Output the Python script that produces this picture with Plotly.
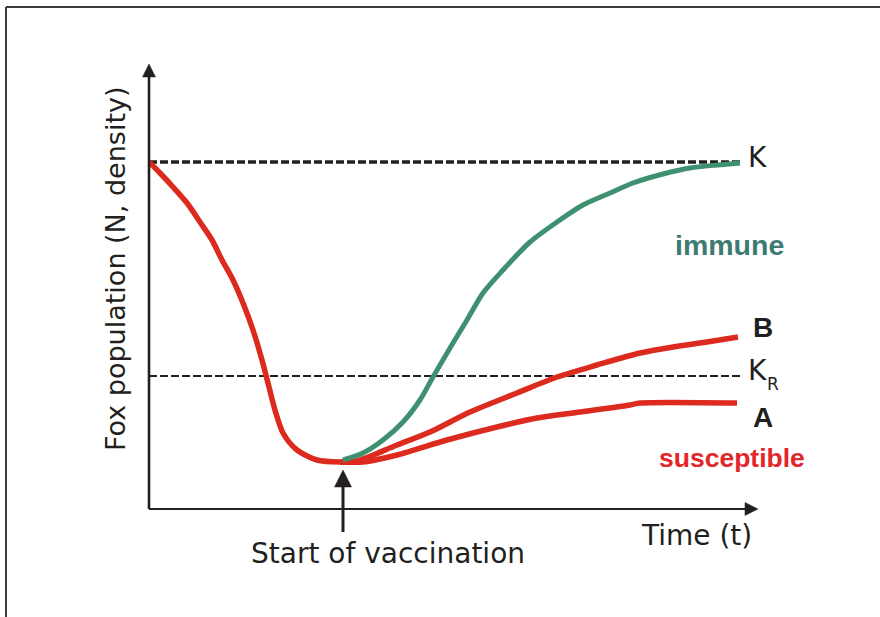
import plotly.graph_objects as go

# ---- data (time units, population units) ----
decline_t = [0, 11, 24, 38, 51, 63, 73, 84, 94, 104, 113, 119, 126, 134, 148, 168, 191]
decline_pop = [347, 336, 322, 306, 287, 269, 249, 229, 206, 179, 149, 126, 99, 76, 59, 49, 47]

immune_t = [194, 214, 234, 254, 271, 284, 304, 318, 334, 354, 381, 408, 434, 461, 484, 514, 541, 568, 591]
immune_pop = [49, 56, 69, 87, 109, 132, 166, 189, 216, 239, 267, 287, 304, 316, 326, 335, 341, 344, 346]

b_t = [191, 208, 248, 281, 321, 368, 408, 448, 491, 524, 558, 589]
b_pop = [47, 48, 64, 77, 97, 116, 132, 144, 156, 162, 167, 172]

a_t = [191, 214, 248, 298, 348, 388, 431, 481, 491, 588]
a_pop = [47, 47, 54, 69, 82, 91, 97, 104, 106, 106]

K_value = 347
KR_value = 133
line_end_t = 593

RED = "#dc2a1f"
GREEN = "#3f9070"
TEAL = "#3d7a72"
INK = "#231f20"
FONT = "DejaVu Sans"

fig = go.Figure()

fig.add_trace(go.Scatter(x=[0, line_end_t], y=[K_value, K_value], mode="lines",
                         line=dict(color=INK, width=3.5, dash="8px,3px"), hoverinfo="skip"))
fig.add_trace(go.Scatter(x=[0, line_end_t], y=[KR_value, KR_value], mode="lines",
                         line=dict(color=INK, width=2.2, dash="8px,3px"), hoverinfo="skip"))

for tx, ty in [(decline_t, decline_pop), (a_t, a_pop), (b_t, b_pop)]:
    fig.add_trace(go.Scatter(x=tx, y=ty, mode="lines",
                             line=dict(color=RED, width=5.5, shape="spline", smoothing=0.8),
                             hoverinfo="skip"))
fig.add_trace(go.Scatter(x=immune_t, y=immune_pop, mode="lines",
                         line=dict(color=GREEN, width=5, shape="spline", smoothing=0.8),
                         hoverinfo="skip"))

# geometry helpers (plot area in pixels)
L, R, T, B = 149, 123, 65, 108
W, H = 880, 617
PW, PH = W - L - R, H - T - B

def px(xp):
    return (xp - L) / PW

def py(yp):
    return (H - B - yp) / PH

def line(x0, y0, x1, y1, width, color=INK):
    fig.add_shape(type="line", xref="paper", yref="paper",
                  x0=px(x0), x1=px(x1), y0=py(y0), y1=py(y1),
                  line=dict(color=color, width=width))

def tri(points, color=INK):
    path = "M " + " L ".join(f"{px(a):.5f},{py(b):.5f}" for a, b in points) + " Z"
    fig.add_shape(type="path", xref="paper", yref="paper", path=path,
                  fillcolor=color, line=dict(color=color, width=0.5))

# frame lines
line(6, 7, 880, 7, 2, "#3a3a3a")
line(6, 7, 6, 617, 2, "#3a3a3a")

# axes with arrowheads
line(149, 509, 149, 76, 2.6)
tri([(142.5, 77), (155.5, 77), (149, 64)])
line(149, 509, 746, 509, 2)
tri([(745, 502.5), (745, 515.5), (758, 509)])

# vaccination arrow
line(343, 532, 343, 486, 3)
tri([(334.5, 487), (351.5, 487), (343, 470)])

annotations = []

def txt(text, xp, yp, size, color=INK, family=FONT, angle=0, xanchor="center"):
    annotations.append(dict(text=text, xref="paper", yref="paper", x=px(xp), y=py(yp),
                            xanchor=xanchor, yanchor="middle", showarrow=False, textangle=angle,
                            font=dict(family=family, size=size, color=color)))

txt("Fox population (N, density)", 115, 269, 27, angle=-90)
txt("Time (t)", 696, 535, 28)
txt("Start of vaccination", 388, 553, 28)
txt("K", 746, 157, 28, xanchor="left")
txt("K", 746, 370, 28, xanchor="left")
txt("R", 765, 384, 17, xanchor="left")
txt("<b>B</b>", 763, 327, 28, family="Liberation Sans")
txt("<b>A</b>", 763, 417, 28, family="Liberation Sans")
txt("<b>immune</b>", 729, 245, 28.5, color=TEAL, family="Liberation Sans")
txt("<b>susceptible</b>", 732, 458, 26.5, color="#e3262a", family="Liberation Sans")

fig.update_layout(
    width=W, height=H, autosize=False,
    margin=dict(l=L, r=R, t=T, b=B),
    paper_bgcolor="white", plot_bgcolor="white",
    showlegend=False,
    xaxis=dict(range=[0, PW], visible=False, fixedrange=True),
    yaxis=dict(range=[0, PH], visible=False, fixedrange=True),
    annotations=annotations,
)

fig.write_html("out.html", config={"displayModeBar": False, "staticPlot": True},
               post_script="document.body.style.margin='0';document.body.style.overflow='hidden';")
